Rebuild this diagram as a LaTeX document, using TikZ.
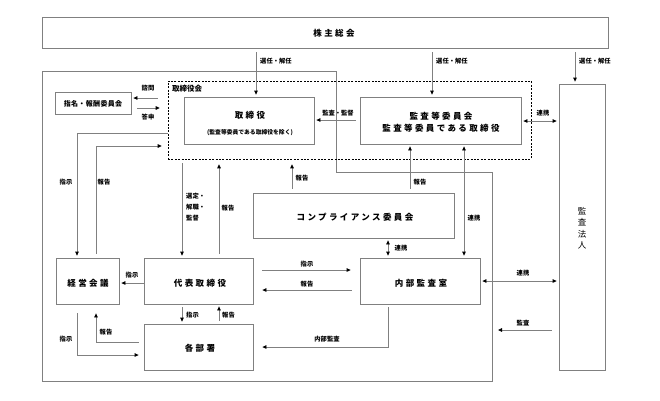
\documentclass[tikz,border=0pt]{standalone}
\usepackage{fontspec}
\setmainfont{Noto Sans CJK JP}
\usetikzlibrary{arrows.meta}
\definecolor{lc}{HTML}{808080}
\tikzset{
  box/.style={draw=lc, line width=0.8pt, inner sep=0pt, align=center},
  bt/.style={font=\bfseries\fontsize{8.5}{10}\selectfont\addfontfeatures{LetterSpace=28}},
  lab/.style={font=\bfseries\fontsize{6.3}{7}\selectfont, inner sep=0pt, align=left},
  ln/.style={draw=lc, line width=0.8pt},
  tip/.tip={Triangle[length=4pt,width=3.6pt,color=black]},
  arr/.style={ln, -tip, shorten <=4pt, shorten >=2pt},
  darr/.style={ln, tip-tip, shorten <=2pt, shorten >=2pt},
}
\begin{document}
\begin{tikzpicture}[x=1pt,y=-1pt]
\useasboundingbox (0,0) rectangle (660,400);
% outer polygon
\draw[ln] (42,71) -- (336,71) -- (336,172) -- (492,172) -- (492,381) -- (42,381) -- cycle;
% dashed board
\node[draw=black, dashed, dash pattern=on 2pt off 1.4pt, line width=0.7pt, minimum width=363, minimum height=78, inner sep=0] (board) at (349.5,120) {};
\node[lab, font=\bfseries\fontsize{7.5}{8}\selectfont, anchor=west] (boardt) at (172,89) {取締役会};
% boxes
\node[box, minimum width=566, minimum height=31] (kabu) at (325,32.5) {};
\node[bt] (kabut) at (334,33) {株主総会};
\node[box, minimum width=76, minimum height=22] (shimei) at (93,103) {};
\node[bt, font=\bfseries\fontsize{7}{8}\selectfont\addfontfeatures{LetterSpace=5}] (shimeit) at (93,103.5) {指名・報酬委員会};
\node[box, minimum width=130, minimum height=47] (tori) at (249,120.5) {};
\node[bt] (torit) at (250,115) {取締役};
\node[lab, font=\bfseries\fontsize{5.8}{7}\selectfont] (torit2) at (250,133) {(監査等委員である取締役を除く)};
\node[box, minimum width=161, minimum height=47] (kansa) at (440.5,120.5) {};
\node[bt, align=center] (kansat) at (441,122) {監査等委員会\\[2pt]監査等委員である取締役};
\node[box, minimum width=46, minimum height=286] (hojin) at (582,227) {};
\node[bt, font=\fontsize{8.5}{11.5}\selectfont, align=center] (hojint) at (582,228) {監\\査\\法\\人};
\node[box, minimum width=201, minimum height=45] (comp) at (353.5,215.5) {};
\node[bt] (compt) at (355,217) {コンプライアンス委員会};
\node[box, minimum width=63, minimum height=46] (keiei) at (87.5,281) {};
\node[bt] (keieit) at (88,283) {経営会議};
\node[box, minimum width=109, minimum height=46] (daihyo) at (198.5,281) {};
\node[bt] (daihyot) at (200,283) {代表取締役};
\node[box, minimum width=109, minimum height=46] (kakubu) at (198.5,347) {};
\node[bt] (kakubut) at (200,348) {各部署};
\node[box, minimum width=120, minimum height=46] (naibu) at (420,281) {};
\node[bt] (naibut) at (421,283) {内部監査室};
% shareholders arrows
\draw[arr] (256,0 |- kabu.south) -- (256,0 |- tori.north);
\node[lab, anchor=west] (l1) at (260,61) {選任・解任};
\draw[arr] (432,0 |- kabu.south) -- (432,0 |- kansa.north);
\node[lab, anchor=west] (l2) at (436,61) {選任・解任};
\draw[arr] (575,0 |- kabu.south) -- (575,0 |- hojin.north);
\node[lab, anchor=west] (l3) at (579,61) {選任・解任};
% audit/supervision
\draw[arr] (kansa.west |- 0,120) -- (tori.east |- 0,120);
\node[lab] (l4) at (338,113) {監査・監督};
\draw[darr] (kansa.east |- 0,121) -- (hojin.west |- 0,121);
\node[lab] (l5) at (543,113) {連携};
% nomination committee
\draw[arr, shorten <=10pt] (board.west |- 0,98) -- (shimei.east |- 0,98);
\node[lab] (l6) at (148,88) {諮問};
\draw[arr, shorten <=6pt, shorten >=8pt] (shimei.east |- 0,108) -- (board.west |- 0,108);
\node[lab] (l7) at (148,117) {答申};
% board <-> management meeting
\draw[arr, shorten <=0pt] (board.west |- 0,133) -- (77,133) -- (77,0 |- keiei.north);
\node[lab] (l8) at (66,182) {指示};
\draw[arr, shorten >=6pt] (96,0 |- keiei.north) -- (96,146) -- (board.west |- 0,146);
\node[lab] (l9) at (104,182) {報告};
% board <-> representative
\draw[arr] (182,0 |- board.south) -- (182,0 |- daihyo.north);
\node[lab, anchor=north west, font=\bfseries\fontsize{6.3}{11}\selectfont] (l10) at (186,193) {選定・\\解職・\\監督};
\draw[arr, shorten >=5pt] (219,0 |- daihyo.north) -- (219,0 |- board.south);
\node[lab] (l11) at (228,208) {報告};
\draw[arr, shorten >=5pt] (292,0 |- comp.north) -- (292,0 |- board.south);
\node[lab] (l12) at (302,178) {報告};
\draw[arr] (410,0 |- comp.north) -- (410,0 |- kansa.south);
\node[lab] (l13) at (420,182) {報告};
% linkage internal audit
\draw[darr] (464,0 |- kansa.south) -- (464,0 |- naibu.north);
\node[lab] (l14) at (474,218) {連携};
\draw[darr] (388,0 |- comp.south) -- (388,0 |- naibu.north);
\node[lab] (l15) at (401,248) {連携};
% representative -> management meeting
\draw[arr, shorten <=0pt] (daihyo.west |- 0,283) -- (keiei.east |- 0,283);
\node[lab] (l16) at (132,275) {指示};
% representative <-> internal audit
\draw[arr, shorten <=9pt, shorten >=9pt] (daihyo.east |- 0,270) -- (naibu.west |- 0,270);
\node[lab] (l17) at (307,264) {指示};
\draw[arr, shorten <=8pt, shorten >=9pt] (naibu.west |- 0,290) -- (daihyo.east |- 0,290);
\node[lab] (l18) at (307,284) {報告};
% representative <-> departments
\draw[arr, shorten <=3pt, shorten >=2pt] (182,0 |- daihyo.south) -- (182,0 |- kakubu.north);
\node[lab, anchor=west] (l19) at (186,315) {指示};
\draw[arr, shorten <=3pt, shorten >=2pt] (219,0 |- kakubu.north) -- (219,0 |- daihyo.south);
\node[lab, anchor=west] (l20) at (222,315) {報告};
% management meeting <-> departments
\draw[arr, shorten <=9pt, shorten >=5pt] (77,0 |- keiei.south) -- (77,355) -- (kakubu.west |- 0,355);
\node[lab] (l21) at (66,339) {指示};
\draw[arr, shorten <=5pt, shorten >=9pt] (kakubu.west |- 0,342) -- (96,342) -- (96,0 |- keiei.south);
\node[lab] (l22) at (106,332) {報告};
% internal audit -> departments
\draw[arr, shorten <=3pt, shorten >=9pt] (388,0 |- naibu.south) -- (388,347) -- (kakubu.east |- 0,347);
\node[lab] (l23) at (327,339) {内部監査};
% audit firm
\draw[darr] (naibu.east |- 0,281) -- (hojin.west |- 0,281);
\node[lab] (l24) at (523,273) {連携};
\coordinate (auditend) at (498,330);
\draw[arr, shorten <=7pt, shorten >=0pt] (hojin.west |- 0,330) -- (auditend);
\node[lab] (l25) at (523,323) {監査};
\end{tikzpicture}
\end{document}
